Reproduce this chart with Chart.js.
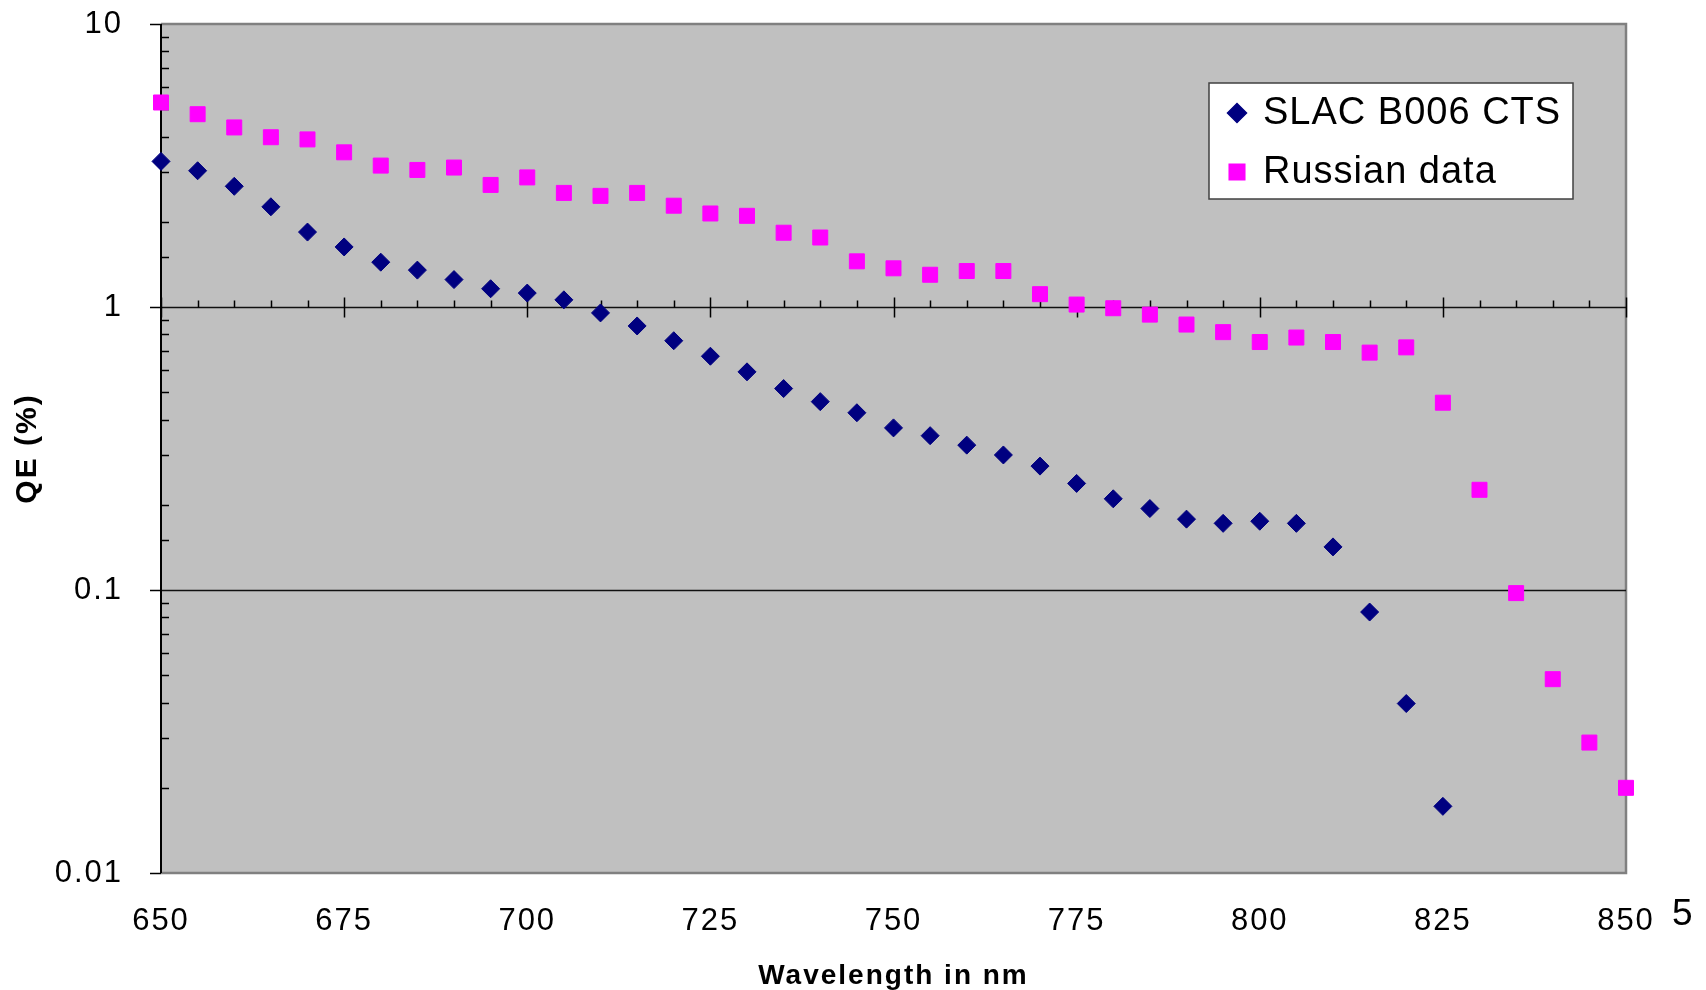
<!DOCTYPE html>
<html>
<head>
<meta charset="utf-8">
<title>QE vs wavelength</title>
<script src="https://cdn.jsdelivr.net/npm/chart.js@4.4.1/dist/chart.umd.min.js"></script>
<style>
  html, body { margin: 0; padding: 0; background: #fff; }
  #wrap { width: 1706px; height: 990px; position: relative; }
</style>
</head>
<body>
<div id="wrap"><canvas id="qeChart"></canvas></div>
<script>
// wavelength (nm) for each measured point
const slacWavelengths = [650, 655, 660, 665, 670, 675, 680, 685, 690, 695, 700, 705, 710, 715, 720, 725, 730, 735,
    740, 745, 750, 755, 760, 765, 770, 775, 780, 785, 790, 795, 800, 805, 810, 815, 820, 825];
const russianWavelengths = [650, 655, 660, 665, 670, 675, 680, 685, 690, 695, 700, 705, 710, 715, 720, 725, 730, 735,
    740, 745, 750, 755, 760, 765, 770, 775, 780, 785, 790, 795, 800, 805, 810, 815, 820, 825, 830, 835, 840, 845, 850];

// QE in percent
const slacQE = [3.27, 3.03, 2.67, 2.26, 1.84, 1.63, 1.44, 1.35, 1.25, 1.16, 1.12, 1.06, 0.953, 0.857, 0.76, 0.67,
    0.59, 0.515, 0.463, 0.423, 0.374, 0.351, 0.325, 0.30, 0.274, 0.238, 0.21, 0.194, 0.178, 0.172, 0.175, 0.172,
    0.142, 0.0836, 0.0397, 0.0172];
const russianQE = [5.28, 4.8, 4.31, 3.98, 3.91, 3.52, 3.16, 3.05, 3.11, 2.7, 2.87, 2.53, 2.47, 2.53, 2.28, 2.14,
    2.1, 1.83, 1.76, 1.45, 1.37, 1.30, 1.34, 1.34, 1.11, 1.02, 0.99, 0.94, 0.867, 0.815, 0.752, 0.78, 0.752, 0.69,
    0.72, 0.459, 0.226, 0.0975, 0.0484, 0.0289, 0.02];

const seriesNames = ["SLAC B006 CTS", "Russian data"];
const xTickValues = [650, 675, 700, 725, 750, 775, 800, 825, 850];
const yTickLabels = ["10", "1", "0.1", "0.01"];
const pageNumber = "5";

const FONT = "'Liberation Sans', Arial, Helvetica, sans-serif";

const toPoints = (xs, ys) => xs.map((x, i) => ({ x: x, y: ys[i] }));

const isDecade = (v) => Math.abs(Math.log10(v) - Math.round(Math.log10(v))) < 1e-6;

// grey plot area, the axis that crosses at QE = 1, ticks and gridlines
const plotFrame = {
    id: "plotFrame",
    beforeDraw(chart) {
        // the lettering in this chart is set a little wide
        chart.ctx.letterSpacing = "2px";
    },
    beforeDatasetsDraw(chart) {
        const { ctx, chartArea: a, scales } = chart;
        const x = scales.x, y = scales.y;
        ctx.save();
        ctx.fillStyle = "#c0c0c0";
        ctx.fillRect(a.left, a.top, a.right - a.left, a.bottom - a.top);

        // grey frame on top, right, bottom
        ctx.strokeStyle = "#808080";
        ctx.lineWidth = 2.5;
        ctx.beginPath();
        ctx.moveTo(a.left, a.top);
        ctx.lineTo(a.right, a.top);
        ctx.lineTo(a.right, a.bottom);
        ctx.lineTo(a.left, a.bottom);
        ctx.stroke();

        // major gridlines at the inner decades
        ctx.strokeStyle = "#111";
        ctx.lineWidth = 1.5;
        [1, 0.1].forEach(v => {
            const py = Math.round(y.getPixelForValue(v)) + 0.5;
            ctx.beginPath();
            ctx.moveTo(a.left, py);
            ctx.lineTo(a.right, py);
            ctx.stroke();
        });

        // value axis line with minor ticks inside and decade ticks outside
        ctx.strokeStyle = "#000";
        ctx.lineWidth = 2;
        ctx.beginPath();
        ctx.moveTo(a.left, a.top);
        ctx.lineTo(a.left, a.bottom);
        ctx.stroke();
        ctx.lineWidth = 1.5;
        y.ticks.forEach(t => {
            const py = Math.round(y.getPixelForValue(t.value)) + 0.5;
            ctx.beginPath();
            if (isDecade(t.value)) {
                ctx.moveTo(a.left - 11, py);
                ctx.lineTo(a.left, py);
            } else {
                ctx.moveTo(a.left, py);
                ctx.lineTo(a.left + 8, py);
            }
            ctx.stroke();
        });

        // category axis sits on QE = 1
        const y1 = Math.round(y.getPixelForValue(1)) + 0.5;
        for (let w = x.min; w <= x.max; w += 5) {
            const px = Math.round(x.getPixelForValue(w)) + 0.5;
            ctx.beginPath();
            if (xTickValues.includes(w)) {
                ctx.moveTo(px, y1 - 10);
                ctx.lineTo(px, y1 + 10);
            } else {
                ctx.moveTo(px, y1 - 7);
                ctx.lineTo(px, y1);
            }
            ctx.stroke();
        }
        ctx.restore();
    },
    afterDraw(chart) {
        const { ctx, chartArea: a } = chart;
        ctx.save();

        // legend box in the upper right
        const bx = a.right - 417, by = a.top + 59, bw = 364, bh = 116;
        ctx.fillStyle = "#fff";
        ctx.fillRect(bx, by, bw, bh);
        ctx.strokeStyle = "#404040";
        ctx.lineWidth = 1.5;
        ctx.strokeRect(bx, by, bw, bh);

        ctx.font = "38px " + FONT;
        ctx.letterSpacing = "1px";
        ctx.textBaseline = "middle";
        ctx.textAlign = "left";
        chart.data.datasets.forEach((ds, i) => {
            const cy = by + 30 + i * 59;
            ctx.fillStyle = ds.backgroundColor;
            ctx.strokeStyle = ds.borderColor;
            Chart.helpers.drawPoint(ctx, {
                pointStyle: ds.pointStyle,
                radius: ds.pointStyle === "rect" ? 11 : 9.5,
                rotation: 0,
                borderWidth: 1
            }, bx + 28, cy);
            ctx.fillStyle = "#000";
            ctx.fillText(ds.label, bx + 54, cy + 1);
        });

        // page number at the lower right
        ctx.font = "37px " + FONT;
        ctx.letterSpacing = "0px";
        ctx.textBaseline = "alphabetic";
        ctx.fillText(pageNumber, a.right + 46, 925);
        ctx.restore();
        ctx.letterSpacing = "0px";
    }
};

const ctx = document.getElementById("qeChart").getContext("2d");
new Chart(ctx, {
    type: "scatter",
    data: {
        datasets: [
            {
                label: seriesNames[0],
                data: toPoints(slacWavelengths, slacQE),
                pointStyle: "rectRot",
                pointRadius: 9,
                pointHoverRadius: 9,
                borderWidth: 1,
                backgroundColor: "#000080",
                borderColor: "#000080",
                clip: false
            },
            {
                label: seriesNames[1],
                data: toPoints(russianWavelengths, russianQE),
                pointStyle: "rect",
                pointRadius: 10.6,
                pointHoverRadius: 10.6,
                borderWidth: 1,
                backgroundColor: "#ff00ff",
                borderColor: "#ff00ff",
                clip: false
            }
        ]
    },
    options: {
        responsive: true,
        maintainAspectRatio: false,
        animation: false,
        layout: { padding: { top: 24, right: 80, left: 0, bottom: 0 } },
        plugins: {
            legend: { display: false },
            tooltip: { enabled: false }
        },
        scales: {
            x: {
                type: "linear",
                position: "bottom",
                min: 650,
                max: 850,
                grid: { display: false },
                border: { display: false },
                afterBuildTicks: (scale) => {
                    scale.ticks = xTickValues.map(v => ({ value: v }));
                },
                ticks: {
                    padding: 22,
                    color: "#000",
                    font: { family: FONT, size: 31 },
                    maxRotation: 0,
                    autoSkip: false,
                    callback: (v) => String(v)
                },
                title: {
                    display: true,
                    text: "Wavelength in nm",
                    color: "#000",
                    font: { family: FONT, size: 28, weight: "bold", lineHeight: 1 },
                    padding: { top: 0, bottom: 0 }
                },
                afterFit: (scale) => { scale.height = 117; }
            },
            y: {
                type: "logarithmic",
                position: "left",
                min: 0.01,
                max: 10,
                grid: { display: false },
                border: { display: false },
                ticks: {
                    padding: 30,
                    color: "#000",
                    font: { family: FONT, size: 31 },
                    autoSkip: false,
                    callback: (v) => {
                        if (!isDecade(v)) return "";
                        const lbl = yTickLabels.find(s => Math.abs(parseFloat(s) - v) < 1e-9 * Math.max(1, v));
                        return lbl || "";
                    }
                },
                title: {
                    display: true,
                    text: "QE (%)",
                    color: "#000",
                    font: { family: FONT, size: 30, weight: "bold" },
                    padding: { top: 10, bottom: 0 }
                },
                afterFit: (scale) => {
                    scale.width = 161;
                    scale.paddingTop = 0;
                    scale.paddingBottom = 0;
                }
            }
        }
    },
    plugins: [plotFrame]
});
</script>
</body>
</html>
